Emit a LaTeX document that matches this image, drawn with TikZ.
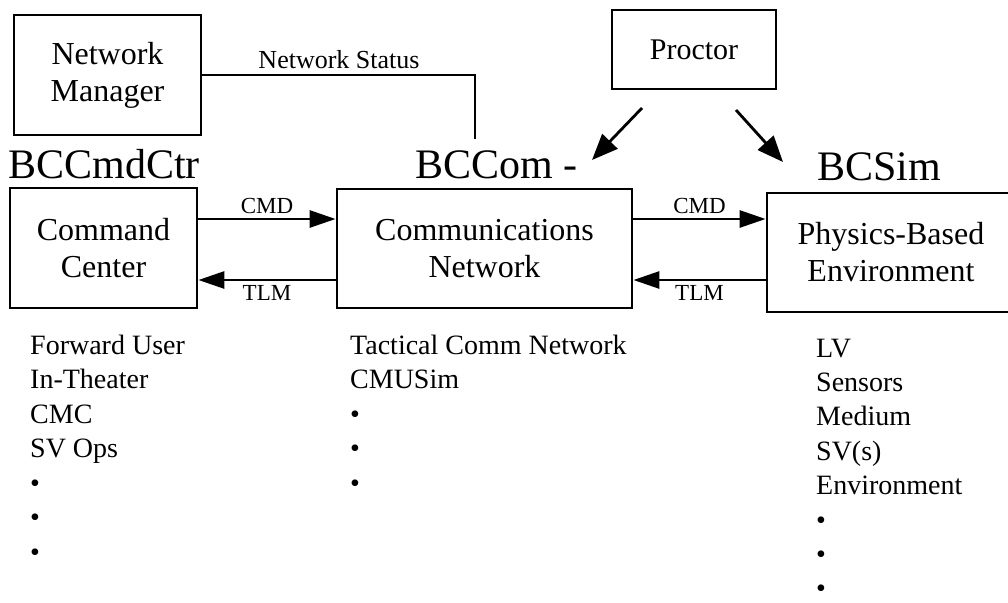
\documentclass[tikz,border=0pt]{standalone}
\usepackage{fontspec}
\setmainfont{Liberation Serif}
\usetikzlibrary{arrows.meta}
\begin{document}
\begin{tikzpicture}[x=1pt,y=-1pt,
	box/.style={draw,line width=2.8pt,align=center,inner sep=0pt,font=\fontsize{32}{37}\selectfont},
	flow/.style={line width=2.8pt,-{Triangle[length=26pt,width=17pt]}},
	push/.style={line width=2.8pt,-{Triangle[length=26pt,width=21pt]}},
	tag/.style={font=\fontsize{23}{25}\selectfont,inner sep=4pt},
	title/.style={font=\fontsize{42}{44}\selectfont,inner sep=0pt},
	item/.style={font=\fontsize{28}{30}\selectfont,anchor=base west,inner sep=0pt}]
\useasboundingbox (0,0) rectangle (1008,602);
% top row
\node[box,minimum width=187pt,minimum height=120pt] (netmgr) at (107.5,75) {Network\\Manager};
\node[box,minimum width=164pt,minimum height=79pt,font=\fontsize{30}{34}\selectfont] (proctor) at (694,49.5) {Proctor};
% main boxes
\node[box,minimum width=187pt,minimum height=120pt] (cmdctr) at (103.5,248) {Command\\Center};
\node[box,minimum width=295pt,minimum height=119pt] (comm) at (484.5,248.5) {Communications\\Network};
\node[box,minimum width=248pt,minimum height=119pt] (phys) at (891,252.5) {Physics-Based\\Environment};
% titles
\node[title,anchor=base] (cmdname) at (104,178) {BCCmdCtr};
\node[title,anchor=base west] (comname) at (415,178) {BCCom -};
\node[title,anchor=base west] (simname) at (817,180) {BCSim};
% network status
\coordinate (statend) at (475,139);
\draw[line width=2.8pt] (netmgr.east) -| (statend);
\node[tag,anchor=base,font=\fontsize{26}{28}\selectfont] (status) at (339,68) {Network Status};
% proctor arrows
\coordinate (pl) at (642,108);
\coordinate (plend) at (592,160);
\coordinate (pr) at (736,110);
\coordinate (prend) at (783,162);
\draw[push] (pl) -- (plend);
\draw[push] (pr) -- (prend);
% CMD / TLM
\coordinate (cmdy) at (0,219);
\coordinate (tlmy) at (0,280);
\draw[flow] (cmdctr.east |- cmdy) -- node[tag,above] (cmd1) {CMD} (comm.west |- cmdy);
\draw[flow] (comm.west |- tlmy) -- node[tag,below] (tlm1) {TLM} (cmdctr.east |- tlmy);
\draw[flow] (comm.east |- cmdy) -- node[tag,above] (cmd2) {CMD} (phys.west |- cmdy);
\draw[flow] (phys.west |- tlmy) -- node[tag,below] (tlm2) {TLM} (comm.east |- tlmy);
% lists
\foreach \t [count=\i] in {Forward User,In-Theater,CMC,SV Ops,\textbullet,\textbullet,\textbullet}
	\node[item] (cmditem\i) at (30,{354+34.5*(\i-1)}) {\t};
\foreach \t [count=\i] in {Tactical Comm Network,CMUSim,\textbullet,\textbullet,\textbullet}
	\node[item] (comitem\i) at (350,{354+34.5*(\i-1)}) {\t};
\foreach \t [count=\i] in {LV,Sensors,Medium,SV(s),Environment,\textbullet,\textbullet,\textbullet}
	\node[item] (simitem\i) at (816,{357+34.4*(\i-1)}) {\t};
\end{tikzpicture}
\end{document}
